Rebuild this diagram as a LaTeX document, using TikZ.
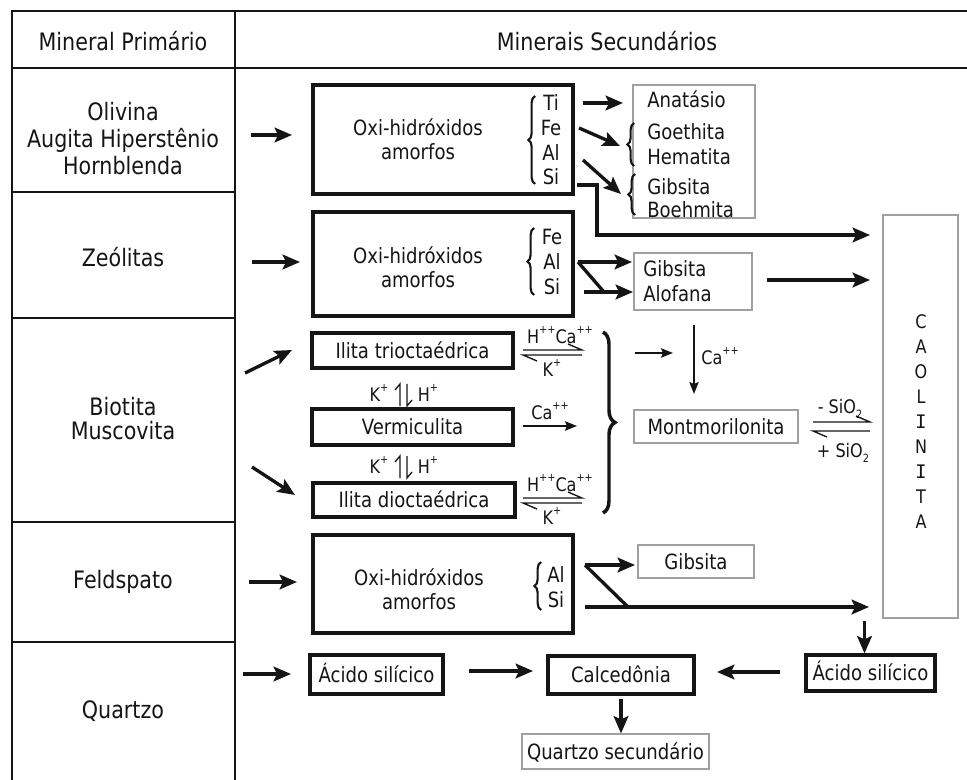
\documentclass[tikz,border=0pt]{standalone}
\usepackage{fontspec}
\setmainfont{DejaVu Sans}[FakeStretch=0.86]
\newfontfamily\capfont{DejaVu Sans Mono}
\usetikzlibrary{arrows.meta,decorations.pathreplacing}
\definecolor{ink}{HTML}{151515}
\definecolor{gline}{HTML}{A0A0A0}
\newcommand\FBig{\fontsize{18}{20}\selectfont}
\newcommand\FNorm{\fontsize{15.75}{18}\selectfont}
\newcommand\FSmall{\fontsize{14}{16}\selectfont}
\newcommand\FLet{\fontsize{14}{16}\selectfont}
\newcommand\sps[1]{\raisebox{0.55em}{\fontsize{8.5}{8.5}\selectfont #1}}
\newcommand\sbs[1]{\raisebox{-0.25em}{\fontsize{8.5}{8.5}\selectfont #1}}
\newcommand\MkBox[7]{\node[#6, minimum width={(#4-#2)*0.75pt}, minimum height={(#5-#3)*0.75pt}] (#1) at ({(#2+#4)/2},{(#3+#5)/2}) {#7};}
\begin{document}
\begin{tikzpicture}[x=0.75pt,y=-0.75pt,
  every node/.style={text=ink, inner sep=0pt},
  big/.style={font=\FBig, text height=13.1pt, text depth=0pt},
  nrm/.style={font=\FNorm, text height=11.5pt, text depth=0pt},
  sml/.style={font=\FSmall, text height=10.2pt, text depth=0pt},
  let/.style={font=\FLet, text height=10.2pt, text depth=0pt},
  box/.style={draw=ink, line width=2.4pt},
  gbox/.style={draw=gline, line width=0.8pt},
  arr/.style={draw=ink, line width=2.5pt, -{Stealth[length=13pt,width=11pt,inset=2.5pt]}},
  tarr/.style={draw=ink, line width=1.3pt, -{Stealth[length=9pt,width=7pt,inset=1.5pt]}},
  tbl/.style={draw=ink, line width=2.2pt},
  ln/.style={draw=ink, line width=2.5pt},
  hp/.style={draw=ink, line width=1pt},
  brc/.style={draw=ink, line width=1.6pt, decorate, decoration={brace, amplitude=5pt}},
  bigbrc/.style={draw=ink, line width=2.6pt, decorate, decoration={brace, amplitude=9pt}},
]
\useasboundingbox (0,0) rectangle (967,780);
% ---------- table ----------
\draw[tbl] (967,11) -- (12,11) -- (12,780);
\draw[tbl] (235,11) -- (235,780);
\draw[tbl] (12,68) -- (967,68);
\draw[tbl] (12,192) -- (235,192);
\draw[tbl] (12,318) -- (235,318);
\draw[tbl] (12,522) -- (235,522);
\draw[tbl] (12,642) -- (235,642);
\node[big] (hl) at (123,42) {Mineral Primário};
\node[big] (hr) at (607,42) {Minerais Secundários};
\node[big] (oli) at (123,112) {Olivina};
\node[big] (aug) at (123,139) {Augita Hiperstênio};
\node[big] (hor) at (123,166) {Hornblenda};
\node[big] (zeo) at (123,258) {Zeólitas};
\node[big] (bio) at (123,407) {Biotita};
\node[big] (mus) at (123,431) {Muscovita};
\node[big] (fel) at (123,580) {Feldspato};
\node[big] (qtz) at (123,710) {Quartzo};
% ---------- row 1 ----------
\MkBox{ox1}{313}{85}{573}{194}{box}{}
\node[nrm] (ox1a) at (418,128) {Oxi-hidróxidos};
\node[nrm] (ox1b) at (418,152) {amorfos};
\node[nrm] (ti) at (551,103) {Ti};
\node[nrm] (fe) at (551,128) {Fe};
\node[nrm] (al) at (551,153) {Al};
\node[nrm] (si) at (551,177) {Si};
\draw[brc] (535,184) -- (535,96);
\MkBox{gb1}{633}{85}{755}{218}{gbox}{}
\node[nrm,anchor=west] (anat) at (647,100) {Anatásio};
\node[nrm,anchor=west] (goet) at (647,132) {Goethita};
\node[nrm,anchor=west] (hema) at (647,157) {Hematita};
\node[nrm,anchor=west] (gib1) at (647,187) {Gibsita};
\node[nrm,anchor=west] (boeh) at (647,210) {Boehmita};
\draw[brc] (634,166) -- (634,123);
\draw[brc] (635,215) -- (635,174);
\coordinate (r1a) at (251,135); \coordinate (r1b) at (292,135);
\draw[arr] (r1a) -- (r1b);
\coordinate (tia) at (583,103); \coordinate (tib) at (623,103);
\draw[arr] (tia) -- (tib);
\coordinate (fea) at (579,128); \coordinate (feb) at (620,146);
\draw[arr] (fea) -- (feb);
\coordinate (ala) at (583,160); \coordinate (alb) at (621,194);
\draw[arr] (ala) -- (alb);
\coordinate (sia) at (577,185); \coordinate (sib) at (597,235); \coordinate (sic) at (870,235);
\draw[arr] (sia) -| (sib) -- (sic);
% ---------- row 2 ----------
\MkBox{ox2}{313}{212}{573}{316}{box}{}
\node[nrm] (ox2a) at (418,256) {Oxi-hidróxidos};
\node[nrm] (ox2b) at (418,280) {amorfos};
\node[nrm] (fe2) at (552,237) {Fe};
\node[nrm] (al2) at (552,262) {Al};
\node[nrm] (si2) at (552,287) {Si};
\draw[brc] (534,295) -- (534,228);
\MkBox{gb2}{634}{253}{752}{310}{gbox}{}
\node[nrm,anchor=west] (gib2) at (643,269) {Gibsita};
\node[nrm,anchor=west] (alof) at (643,294) {Alofana};
\coordinate (r2a) at (252,262); \coordinate (r2b) at (300,262);
\draw[arr] (r2a) -- (r2b);
\coordinate (a2a) at (578,262); \coordinate (a2b) at (632,262);
\draw[arr] (a2a) -- (a2b);
\coordinate (a2c) at (604,292);
\draw[ln] (a2a) -- (a2c);
\coordinate (a2d) at (584,292); \coordinate (a2e) at (633,292);
\draw[arr] (a2d) -- (a2e);
\coordinate (a2f) at (767,280); \coordinate (a2g) at (870,280);
\draw[arr] (a2f) -- (a2g);
% ---------- caolinita ----------
\MkBox{caol}{883}{215}{958}{618}{gbox}{}
\node[let] (c1) at (921,322) {C};
\node[let] (c2) at (921,347) {A};
\node[let] (c3) at (921,372) {O};
\node[let] (c4) at (921,397) {L};
\node[let] (c5) at (921,422) {\capfont I};
\node[let] (c6) at (921,447) {N};
\node[let] (c7) at (921,472) {\capfont I};
\node[let] (c8) at (921,497) {T};
\node[let] (c9) at (921,522) {A};
% ---------- row 3 ----------
\MkBox{ilt}{312}{333}{513}{368}{box,nrm}{Ilita trioctaédrica}
\MkBox{verm}{312}{409}{513}{445}{box,nrm}{Vermiculita}
\MkBox{ild}{313}{483}{515}{517}{box,nrm}{Ilita dioctaédrica}
\coordinate (r3a) at (245,373); \coordinate (r3b) at (292,350);
\draw[arr] (r3a) -- (r3b);
\coordinate (r3c) at (252,467); \coordinate (r3d) at (295,495);
\draw[arr] (r3c) -- (r3d);
\node[sml] (k1) at (379,395) {K\sps{+}};
\node[sml] (h1) at (428,395) {H\sps{+}};
\draw[hp] (400,406) -- (400,384) -- (395,390);
\draw[hp] (407,384) -- (407,406) -- (412,400);
\node[sml] (k2) at (379,467) {K\sps{+}};
\node[sml] (h2) at (428,467) {H\sps{+}};
\draw[hp] (400,478) -- (400,456) -- (395,462);
\draw[hp] (407,456) -- (407,478) -- (412,472);
\node[sml] (hca1) at (560,337) {H\sps{++}Ca\sps{++}};
\draw[hp] (523,350) -- (582,350) -- (568,344);
\draw[hp] (582,355) -- (523,355) -- (537,361);
\node[sml] (kk1) at (552,370) {K\sps{+}};
\node[sml] (ca1) at (550,413) {Ca\sps{++}};
\coordinate (va) at (523,426); \coordinate (vb) at (577,426);
\draw[tarr] (va) -- (vb);
\node[sml] (hca2) at (560,485) {H\sps{++}Ca\sps{++}};
\draw[hp] (523,498) -- (582,498) -- (568,492);
\draw[hp] (582,503) -- (523,503) -- (537,509);
\node[sml] (kk2) at (552,518) {K\sps{+}};
\draw[bigbrc] (603,332) -- (603,513);
\coordinate (ba) at (635,353); \coordinate (bb) at (673,353);
\draw[tarr] (ba) -- (bb);
\coordinate (ca) at (694,325); \coordinate (cb) at (694,394);
\draw[tarr] (ca) -- (cb);
\node[sml] (ca2) at (720,358) {Ca\sps{++}};
\MkBox{mont}{634}{410}{798}{443}{gbox,nrm}{Montmorilonita}
\node[sml] (msi) at (840,407) {- SiO\sbs{2}};
\draw[hp] (813,422) -- (870,422) -- (856,416);
\draw[hp] (870,431) -- (813,431) -- (827,437);
\node[sml] (psi) at (843,451) {+ SiO\sbs{2}};
% ---------- row 4 ----------
\MkBox{ox3}{313}{535}{573}{633}{box}{}
\node[nrm] (ox3a) at (419,578) {Oxi-hidróxidos};
\node[nrm] (ox3b) at (419,602) {amorfos};
\node[nrm] (al3) at (556,575) {Al};
\node[nrm] (si3) at (556,600) {Si};
\draw[brc] (541,610) -- (541,562);
\MkBox{gb3}{638}{545}{754}{578}{gbox,nrm}{Gibsita}
\coordinate (r4a) at (249,582); \coordinate (r4b) at (297,582);
\draw[arr] (r4a) -- (r4b);
\coordinate (f1) at (585,565); \coordinate (f2) at (635,565);
\draw[arr] (f1) -- (f2);
\coordinate (f3) at (628,607);
\draw[ln] (f1) -- (f3);
\coordinate (f4) at (585,607); \coordinate (f5) at (869,607);
\draw[arr] (f4) -- (f5);
% ---------- row 5 ----------
\coordinate (r5a) at (243,674); \coordinate (r5b) at (291,674);
\draw[arr] (r5a) -- (r5b);
\MkBox{ac1}{310}{655}{443}{694}{box,nrm}{Ácido silícico}
\MkBox{calc}{548}{656}{694}{694}{box,nrm}{Calcedônia}
\MkBox{ac2}{806}{655}{935}{691}{box,nrm}{Ácido silícico}
\MkBox{qsec}{522}{734}{709}{769}{gbox,nrm}{Quartzo secundário}
\coordinate (q1) at (469,671); \coordinate (q2) at (533,671);
\draw[arr] (q1) -- (q2);
\coordinate (q3) at (780,672); \coordinate (q4) at (717,672);
\draw[arr] (q3) -- (q4);
\draw[arr] (caol.south -| ac2.north) ++(-6,2) coordinate (q5) -- (q5 |- ac2.north);
\draw[arr] (calc.south) ++(0,3) coordinate (q6) -- (q6 |- qsec.north) ;
\end{tikzpicture}
\end{document}
